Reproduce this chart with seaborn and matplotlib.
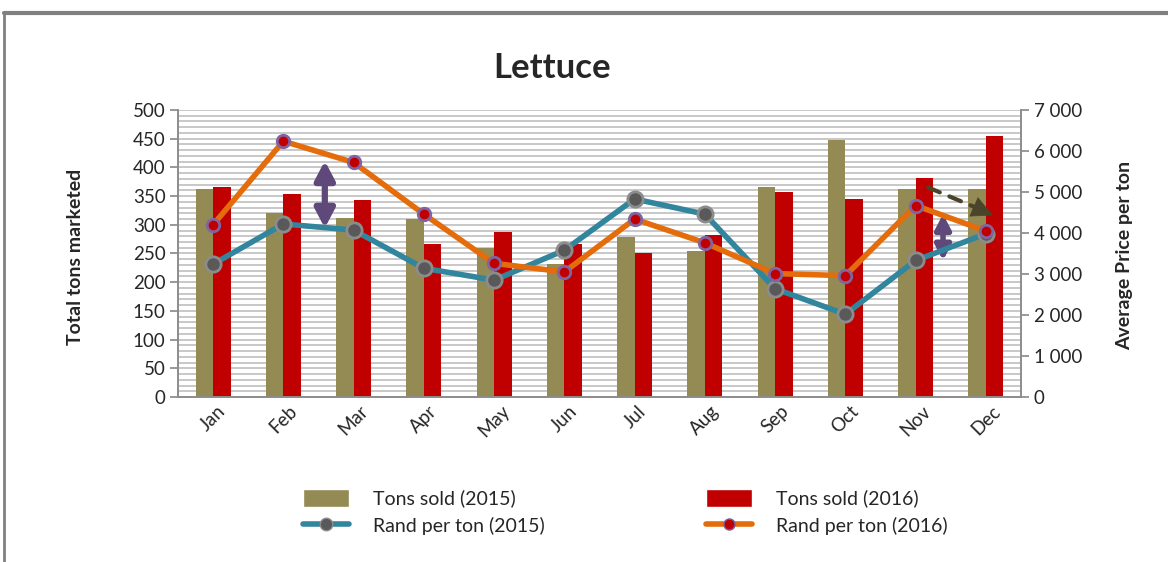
import numpy as np
import pandas as pd
import seaborn as sns
import matplotlib
matplotlib.use("Agg")
import matplotlib.pyplot as plt
from matplotlib.ticker import MultipleLocator, FuncFormatter
from matplotlib.lines import Line2D
from matplotlib.patches import Patch

months = ["Jan", "Feb", "Mar", "Apr", "May", "Jun", "Jul", "Aug", "Sep", "Oct", "Nov", "Dec"]
tons_2015 = [363, 320, 312, 310, 260, 231, 278, 254, 365, 448, 363, 363]
tons_2016 = [365, 354, 343, 267, 287, 267, 251, 282, 357, 345, 381, 455]
rand_2015 = [3240, 4220, 4070, 3140, 2850, 3580, 4830, 4460, 2640, 2020, 3330, 3980]
rand_2016 = [4200, 6240, 5720, 4460, 3260, 3050, 4340, 3760, 3010, 2960, 4670, 4050]

C15_BAR = "#948A54"
C16_BAR = "#C00000"
C15_LINE = "#31859C"
C16_LINE = "#E46C0A"

sns.set_theme(style="white")
plt.rcParams["font.family"] = ["Lato", "DejaVu Sans"]

fig = plt.figure(figsize=(11.68, 5.62), dpi=100)
ax = fig.add_axes([178/1168, 1-397/562, (1021-178)/1168, (397-110)/562])

df = pd.DataFrame({
    "month": months * 2,
    "tons": tons_2015 + tons_2016,
    "year": ["2015"] * 12 + ["2016"] * 12,
})
sns.barplot(data=df, x="month", y="tons", hue="year", order=months,
            palette={"2015": C15_BAR, "2016": C16_BAR}, width=0.5,
            saturation=1, ax=ax, legend=False, zorder=2, linewidth=0)

ax.set_xlim(-0.5, 11.5)
ax.set_ylim(0, 500)
ax.yaxis.set_major_locator(MultipleLocator(50))
ax.yaxis.set_minor_locator(MultipleLocator(10))
ax.grid(which="both", axis="y", color="#BFBFBF", lw=1.2)
ax.set_axisbelow(True)
ax.tick_params(axis="y", which="major", length=6, color="#8C8C8C", labelsize=13.5, pad=3, direction="out", left=True)
ax.tick_params(axis="y", which="minor", length=0)
ax.tick_params(axis="x", length=0, labelsize=13.5, pad=4)
for lab in ax.get_xticklabels():
    lab.set_rotation(45)
    lab.set_ha("center")
ax.set_xlabel("")
ax.set_ylabel("")
ax.spines["top"].set_visible(False)
for s in ["left", "bottom", "right"]:
    ax.spines[s].set_color("#8C8C8C")
    ax.spines[s].set_linewidth(1.2)

ax2 = ax.twinx()
x = np.arange(12)
sns.lineplot(x=x, y=rand_2015, ax=ax2, color=C15_LINE, lw=4, marker="o",
             markersize=11, markerfacecolor="#595959", markeredgecolor="#8C8C8C",
             markeredgewidth=2, zorder=5)
sns.lineplot(x=x, y=rand_2016, ax=ax2, color=C16_LINE, lw=4, marker="o",
             markersize=9, markerfacecolor="#C00000", markeredgecolor="#8064A2",
             markeredgewidth=2, zorder=6)
ax2.set_ylim(0, 7000)
ax2.set_xlim(-0.5, 11.5)
ax2.yaxis.set_major_locator(MultipleLocator(1000))
ax2.yaxis.set_major_formatter(FuncFormatter(lambda v, p: f"{int(v):,}".replace(",", " ")))
ax2.tick_params(axis="y", length=6, color="#8C8C8C", labelsize=13.5, pad=3, direction="out", right=True)
ax2.set_ylabel("")
ax2.grid(False)
ax2.spines["top"].set_visible(False)
for s in ["left", "bottom", "right"]:
    ax2.spines[s].set_color("#8C8C8C")
    ax2.spines[s].set_linewidth(1.2)

# annotation arrows
purple = "#5F497A"
ax2.annotate("", xy=(1.59, 5760), xytext=(1.59, 4120),
             arrowprops=dict(arrowstyle="<|-|>,head_length=0.8,head_width=0.42", color=purple,
                             lw=4.5, mutation_scale=14, shrinkA=0, shrinkB=0))
ax2.annotate("", xy=(10.39, 4460), xytext=(10.39, 3330),
             arrowprops=dict(arrowstyle="<|-|>,head_length=0.8,head_width=0.42", color=purple,
                             lw=4, mutation_scale=11, shrinkA=0, shrinkB=0))
olive_dark = "#4A452A"
ax2.annotate("", xy=(10.9, 4590), xytext=(10.18, 5110),
             arrowprops=dict(arrowstyle="-", color=olive_dark, lw=3, ls=(0, (3, 2.5)),
                             shrinkA=0, shrinkB=0))
ax2.annotate("", xy=(11.1, 4430), xytext=(10.85, 4620),
             arrowprops=dict(arrowstyle="-|>,head_length=0.9,head_width=0.45", color=olive_dark,
                             lw=0.5, mutation_scale=16, shrinkA=0, shrinkB=0))

fig.text(552/1168, 1-68/562, "Lettuce", ha="center", va="center", fontsize=25, fontweight="bold")
fig.text(75/1168, 1-257/562, "Total tons marketed", rotation=90, ha="center", va="center",
         fontsize=14, fontweight="bold")
fig.text(1125/1168, 1-255/562, "Average Price per ton", rotation=90, ha="center", va="center",
         fontsize=14, fontweight="bold")

handles = [
    Patch(facecolor=C15_BAR, label="Tons sold (2015)"),
    Line2D([], [], color=C15_LINE, lw=4, marker="o", markersize=9, markerfacecolor="#595959",
           markeredgecolor="#8C8C8C", label="Rand per ton (2015)"),
    Patch(facecolor=C16_BAR, label="Tons sold (2016)"),
    Line2D([], [], color=C16_LINE, lw=4, marker="o", markersize=8, markerfacecolor="#C00000",
           markeredgecolor="#8064A2", label="Rand per ton (2016)"),
]
fig.legend(handles=handles, loc="center", bbox_to_anchor=(625/1168, 1-512/562), ncol=2,
           frameon=False, fontsize=14, columnspacing=8.3, handlelength=2.4, handleheight=1.0,
           handletextpad=1.2, labelspacing=0.45)

# outer frame (top and left border)
fig.add_artist(Line2D([4/1168, 1], [1-13/562, 1-13/562], transform=fig.transFigure,
                      color="#808080", lw=3))
fig.add_artist(Line2D([4/1168, 4/1168], [0, 1-13/562], transform=fig.transFigure,
                      color="#808080", lw=2))

fig.savefig("out.png", dpi=100)
